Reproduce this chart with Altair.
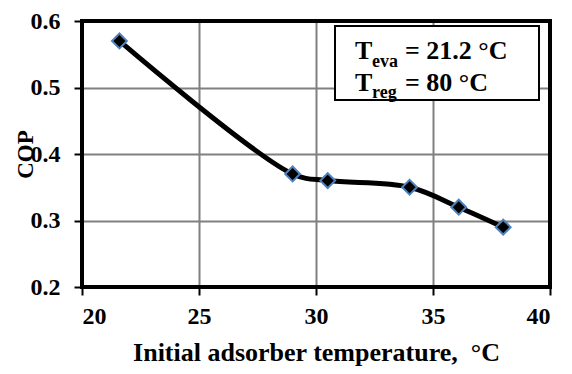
import altair as alt
import pandas as pd

temps = [21.6, 29.0, 30.5, 34.0, 36.1, 38.0]
cop = [0.57, 0.37, 0.36, 0.35, 0.32, 0.29]
x_ticks = [20, 25, 30, 35, 40]
y_ticks = [0.2, 0.3, 0.4, 0.5, 0.6]

df = pd.DataFrame({"t": temps, "cop": cop})

FONT = "Liberation Serif"
W, H = 468, 266

x = alt.X("t:Q", scale=alt.Scale(domain=[20, 40], nice=False),
          axis=alt.Axis(values=x_ticks, title="Initial adsorber temperature,\u00a0 °C",
                        labelFont=FONT, labelFontSize=24, labelFontWeight="bold",
                        titleFontSize=26, labelPadding=9, titlePadding=11))
y = alt.Y("cop:Q", scale=alt.Scale(domain=[0.2, 0.6], nice=False),
          axis=alt.Axis(values=y_ticks, format=".1f", title="COP",
                        labelFont=FONT, labelFontSize=24, labelFontWeight="bold",
                        titleFontSize=23,
                        labelPadding=14, titleX=-57, titleY=H / 2,
                        titleBaseline="middle", titleAlign="center"))

line = alt.Chart(df).mark_line(color="black", strokeWidth=5,
                               interpolate="catmull-rom").encode(x=x, y=y)
pts = alt.Chart(df).mark_point(shape="diamond", filled=True, fill="black",
                               stroke="#4f81bd", strokeWidth=2, size=220,
                               opacity=1).encode(x=x, y=y)

box = alt.Chart(pd.DataFrame({"a": [0]})).mark_rect(
    fill="white", stroke="black", strokeWidth=2).encode(
    x=alt.value(253), x2=alt.value(457), y=alt.value(5), y2=alt.value(79))

def txt(s, xp, yp, size):
    return alt.Chart(pd.DataFrame({"s": [s]})).mark_text(
        font=FONT, fontSize=size, fontWeight="bold", color="black",
        align="left", baseline="alphabetic").encode(
        text="s:N", x=alt.value(xp), y=alt.value(yp))

ann = [
    txt("T", 273, 38, 26), txt("eva", 290, 46, 18), txt("= 21.2 °C", 323, 38, 26),
    txt("T", 273, 70, 26), txt("reg", 290, 77, 18), txt("= 80 °C", 323, 70, 26),
]

border = alt.Chart(pd.DataFrame({"a": [0]})).mark_rect(
    fill=None, stroke="black", strokeWidth=4).encode(
    x=alt.value(0), x2=alt.value(W), y=alt.value(0), y2=alt.value(H))

chart = alt.layer(line, pts, border, box, *ann).properties(
    width=W, height=H, background="white",
    autosize=alt.AutoSizeParams(type="none"),
    padding={"left": 74, "top": 13, "right": 14, "bottom": 79},
).configure_view(stroke=None).configure_axis(
    labelFont=FONT, labelFontWeight="bold", labelColor="black",
    titleFont=FONT, titleFontWeight="bold", titleColor="black",
    tickSize=8, tickColor="black", tickWidth=2,
    domain=False, grid=True, gridColor="#808080", gridWidth=2,
)

chart.save("out.html", embed_options={"renderer": "svg", "actions": False})
